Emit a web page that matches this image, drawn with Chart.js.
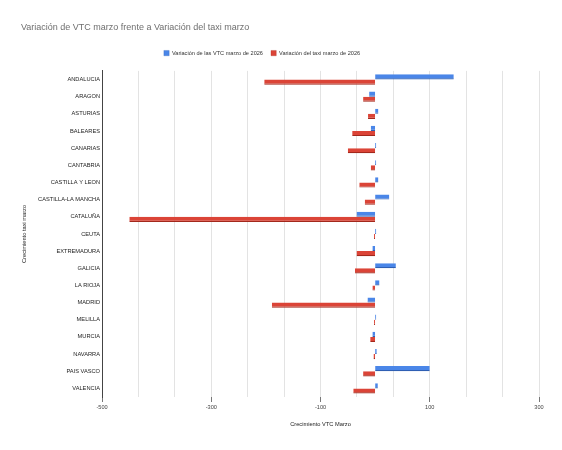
<!DOCTYPE html>
<html>
<head>
<meta charset="utf-8">
<script src="https://cdn.jsdelivr.net/npm/chart.js@4.4.1/dist/chart.umd.min.js"></script>
<style>
  html, body { margin: 0; padding: 0; background: #fff; }
  #wrap { width: 562px; height: 450px; }
</style>
</head>
<body>
<div id="wrap"><canvas id="chart"></canvas></div>
<script>
// data
const regions = ['ANDALUCIA', 'ARAGON', 'ASTURIAS', 'BALEARES', 'CANARIAS', 'CANTABRIA',
  'CASTILLA Y LEON', 'CASTILLA-LA MANCHA', 'CATALUÑA', 'CEUTA', 'EXTREMADURA', 'GALICIA',
  'LA RIOJA', 'MADRID', 'MELILLA', 'MURCIA', 'NAVARRA', 'PAIS VASCO', 'VALENCIA'];
const vtcVariation = [144, -11, 6, -8, 2, 2, 6, 26, -34, 2, -5, 38, 8, -14, 2, -5, 3, 100, 5];
const taxiVariation = [-203, -22, -13, -42, -50, -8, -29, -19, -450, -2, -34, -37, -5, -189, -2, -9, -3, -22, -40];

const xMin = -500;
const xMax = 300;
const majorLabels = [-500, -300, -100, 100, 300];
// gridlines: two minor lines between every labelled tick
const gridStep = 200 / 3;

const font = "'Liberation Sans', Arial, sans-serif";

// nudges the legend to where the reference draws it
const legendShift = {
  id: 'legendShift',
  afterLayout(chart) {
    const lg = chart.legend;
    lg.left -= 18; lg.right -= 18;
    lg.top -= 5; lg.bottom -= 5;
  }
};

new Chart('chart', {
  type: 'bar',
  data: {
    labels: regions,
    datasets: [{
      label: 'Variación de las VTC marzo de 2026',
      data: vtcVariation,
      backgroundColor: '#4a86e8',
      borderColor: '#2f5fb3',
      borderWidth: { top: 0, right: 0, bottom: 1.2, left: 0 },
      borderSkipped: false
    }, {
      label: 'Variación del taxi marzo de 2026',
      data: taxiVariation,
      backgroundColor: '#db4437',
      borderColor: '#a3281c',
      borderWidth: { top: 0, right: 0, bottom: 1.2, left: 0 },
      borderSkipped: false
    }]
  },
  options: {
    indexAxis: 'y',
    responsive: true,
    maintainAspectRatio: false,
    animation: false,
    categoryPercentage: 0.6,
    barPercentage: 1,
    layout: { padding: { left: 21, right: 23, top: 0, bottom: 0 } },
    plugins: {
      title: {
        display: true,
        text: 'Variación de VTC marzo frente a Variación del taxi marzo',
        align: 'start',
        color: '#6f6f6f',
        font: { family: font, size: 9, weight: 'normal' },
        padding: { top: 22.6, bottom: 13.9 }
      },
      legend: {
        position: 'top',
        labels: {
          boxWidth: 5.3,
          boxHeight: 5.3,
          padding: 8,
          color: '#333',
          font: { family: font, size: 5.6 }
        }
      },
      tooltip: { enabled: false }
    },
    scales: {
      x: {
        min: xMin,
        max: xMax,
        afterBuildTicks(scale) {
          const ticks = [];
          for (let v = xMin; v <= xMax + 1e-6; v += gridStep) ticks.push({ value: v });
          scale.ticks = ticks;
        },
        afterFit(scale) { scale.height = 53; },
        grid: {
          color: '#e3e3e3',
          lineWidth: 1,
          tickLength: 5,
          tickColor(ctx) {
            const v = ctx.tick ? Math.round(ctx.tick.value) : null;
            return majorLabels.includes(v) && Math.abs(ctx.tick.value - v) < 1e-6 ? '#777' : 'rgba(0,0,0,0)';
          }
        },
        border: { display: false },
        ticks: {
          autoSkip: false,
          maxRotation: 0,
          padding: 2,
          color: '#444',
          font: { family: font, size: 5.6 },
          callback(value) {
            const r = Math.round(value);
            return Math.abs(value - r) < 1e-6 && majorLabels.includes(r) ? String(r) : '';
          }
        },
        title: {
          display: true,
          text: 'Crecimiento VTC Marzo',
          color: '#222',
          font: { family: font, size: 5.7 },
          padding: { top: 0, bottom: 22.6 }
        }
      },
      y: {
        afterFit(scale) { scale.width = 81; },
        grid: { display: false, drawTicks: false },
        border: { display: true, color: '#444', width: 1 },
        ticks: {
          padding: 2,
          color: '#222',
          font: { family: font, size: 5.7 }
        },
        title: {
          display: true,
          text: 'Crecimiento taxi marzo',
          color: '#222',
          font: { family: font, size: 5.7 },
          padding: { top: 0, bottom: 0 }
        }
      }
    }
  },
  plugins: [legendShift]
});
</script>
</body>
</html>
